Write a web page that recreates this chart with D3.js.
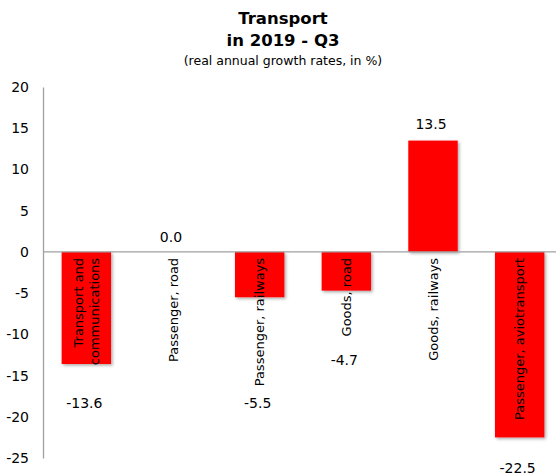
<!DOCTYPE html>
<html>
<head>
<meta charset="utf-8">
<script src="https://cdn.jsdelivr.net/npm/d3@7"></script>
<style>
  body { margin: 0; background: #fff; }
  text { font-family: Tahoma, "DejaVu Sans", sans-serif; fill: #000; }
</style>
</head>
<body>
<div id="chart"></div>
<script>
// data
const categories = [
  ["Transport and", "communications"],
  ["Passenger, road"],
  ["Passenger, railways"],
  ["Goods, road"],
  ["Goods, railways"],
  ["Passenger, aviotransport"]
];
const values = [-13.6, 0.0, -5.5, -4.7, 13.5, -22.5];
const yTicks = [20, 15, 10, 5, 0, -5, -10, -15, -20, -25];

// where the value labels sit, in px from the bar end (as placed in the original)
const labelShift = [39, -15, 106, 69, -16, 31];

// plain hyphen for negatives, like the original
d3.formatDefaultLocale({
  decimal: ".", thousands: ",", grouping: [3], currency: ["$", ""], minus: "-"
});

const width = 556, height = 476;
const svg = d3.select("#chart").append("svg")
  .attr("width", width).attr("height", height);

const defs = svg.append("defs");
const f = defs.append("filter").attr("id", "shadow")
  .attr("x", "-20%").attr("y", "-20%").attr("width", "140%").attr("height", "140%");
f.append("feDropShadow").attr("dx", 1.5).attr("dy", 1.5)
  .attr("stdDeviation", 1.5).attr("flood-color", "#000").attr("flood-opacity", 0.35);

const x = d3.scaleBand()
  .domain(d3.range(categories.length))
  .range([43, 563])
  .paddingInner(0.43).paddingOuter(0.215);

const y = d3.scaleLinear().domain([-25, 20]).range([458, 87]);

// title
svg.append("text").attr("x", 283).attr("y", 24).attr("text-anchor", "middle")
  .style("font-weight", "bold").style("font-size", "16.5px").text("Transport");
svg.append("text").attr("x", 283).attr("y", 46).attr("text-anchor", "middle")
  .style("font-weight", "bold").style("font-size", "16.5px").text("in 2019 - Q3");
svg.append("text").attr("x", 283).attr("y", 65).attr("text-anchor", "middle")
  .style("font-size", "12.5px").text("(real annual growth rates, in %)");

// y axis
const yAxis = svg.append("g").attr("transform", "translate(43,0)")
  .call(d3.axisLeft(y).tickValues(yTicks).tickSize(0).tickPadding(14).tickFormat(d3.format("d")));
yAxis.select(".domain").attr("stroke", "#a0a0a0").attr("stroke-width", 1.3);
yAxis.selectAll("text").style("font-size", "14px")
  .style("font-family", 'Tahoma, "DejaVu Sans", sans-serif');

// bars
svg.append("g").selectAll("rect")
  .data(values)
  .join("rect")
  .attr("x", (d, i) => x(i))
  .attr("width", x.bandwidth())
  .attr("y", d => y(Math.max(0, d)))
  .attr("height", d => Math.abs(y(d) - y(0)))
  .attr("fill", "#ff0000")
  .attr("filter", "url(#shadow)");

// zero line
svg.append("line")
  .attr("x1", 43).attr("x2", width)
  .attr("y1", y(0)).attr("y2", y(0))
  .attr("stroke", "#a0a0a0").attr("stroke-width", 1.3);

// category labels, rotated, hanging under the zero line
const cat = svg.append("g").selectAll("text")
  .data(categories)
  .join("text")
  .attr("transform", (d, i) => `translate(${x(i) + x.bandwidth() / 2},${y(0) + 6}) rotate(-90)`)
  .attr("text-anchor", "end")
  .style("font-size", "13px");
cat.each(function(lines) {
  const t = d3.select(this);
  const n = lines.length;
  lines.forEach((s, k) => {
    t.append("tspan").attr("x", 0)
      .attr("dy", k === 0 ? (0.35 - (n - 1) * 0.6) + "em" : "1.2em")
      .text(s);
  });
});

// value labels
svg.append("g").selectAll("text")
  .data(values)
  .join("text")
  .attr("x", (d, i) => x(i) + x.bandwidth() / 2 - 2)
  .attr("y", (d, i) => y(d) + labelShift[i])
  .attr("dy", "0.35em")
  .attr("text-anchor", "middle")
  .style("font-size", "14px")
  .text(d => d3.format(".1f")(d));
</script>
</body>
</html>
